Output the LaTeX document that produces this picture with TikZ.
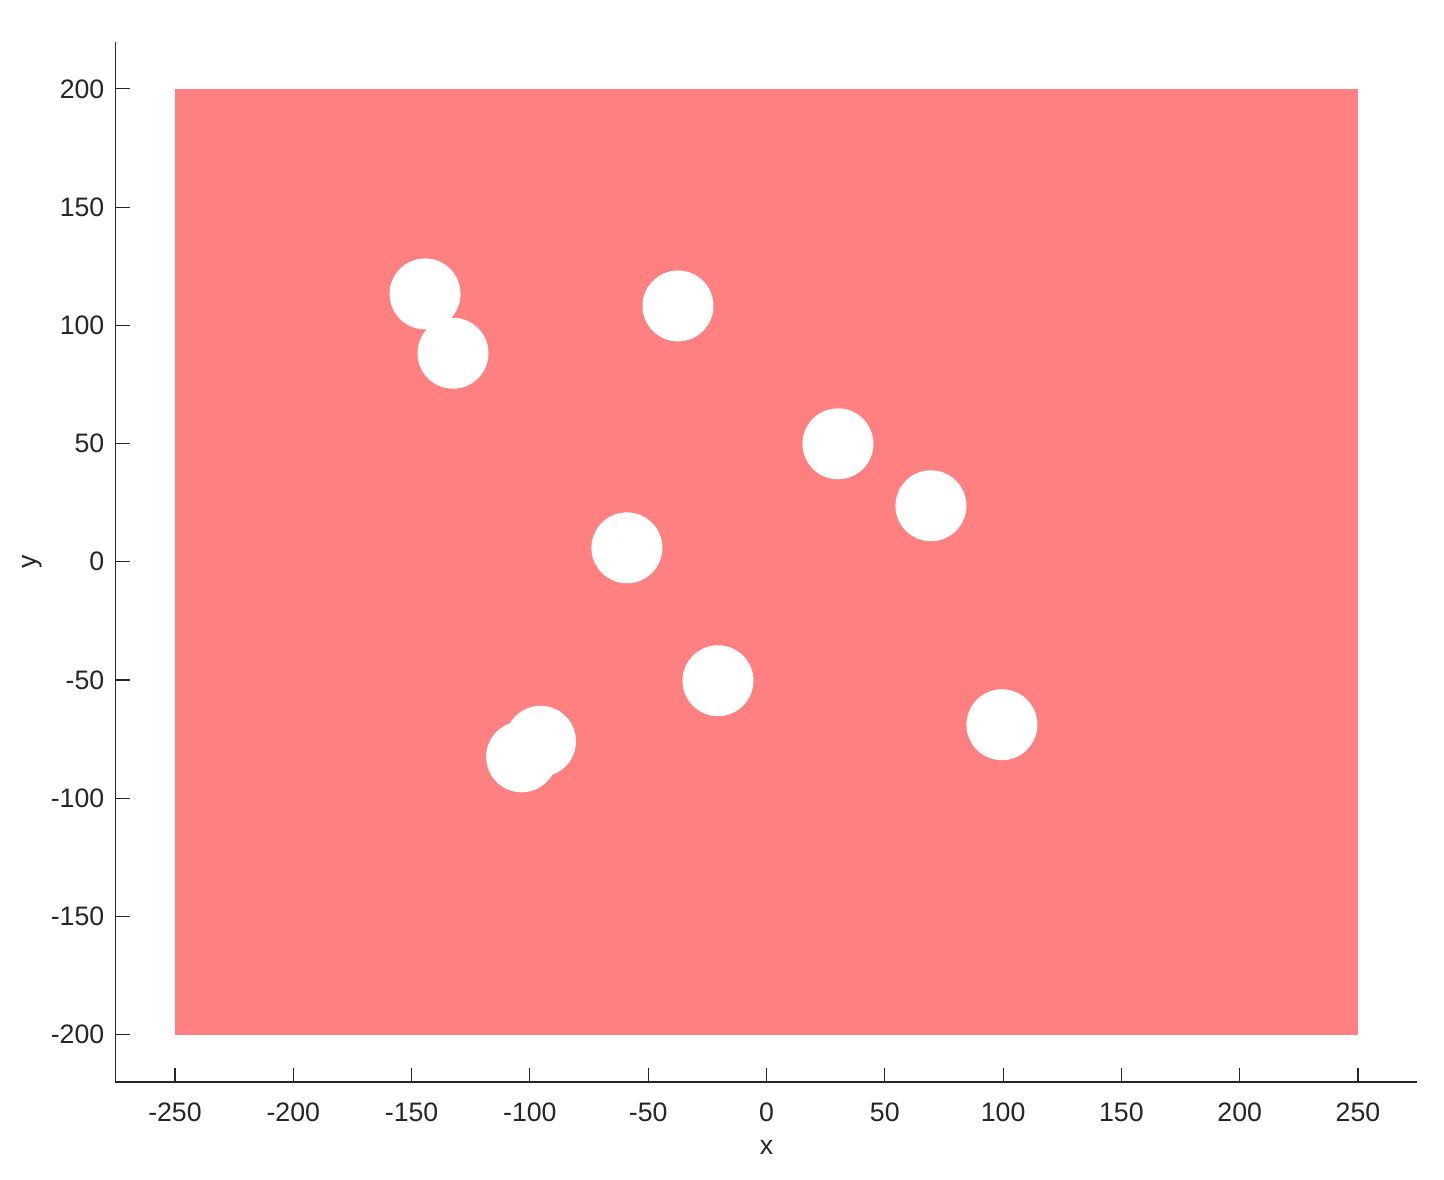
\documentclass[tikz,border=0pt]{standalone}
\usepackage{fontspec}
\setmainfont{Liberation Sans}
\definecolor{axisgray}{RGB}{38,38,38}
\definecolor{regionred}{RGB}{255,128,128}
\tikzset{
  axisline/.style={draw=axisgray, line width=0.3pt},
  ticklabel/.style={text=axisgray, inner sep=0pt, font=\fontsize{7.6}{9}\selectfont},
  hole/.style={fill=white, draw=none}
}
\begin{document}
\begin{tikzpicture}[x=0.02366cm, y=0.02365cm]
  \useasboundingbox (-323.96,-261.3) rectangle (286.35,237.6);
  % region with holes
  \fill[regionred] (-250,-200) rectangle (250,200);
  \foreach \cx/\cy in {-144.3/113.3, -132.5/88.2, -37.4/108.2, 30.2/49.9, 69.5/23.7,
                       -59/5.9, -20.5/-50.3, -95.5/-75.9, -103.5/-82.5, 99.5/-68.9}
    \fill[hole] (\cx,\cy) circle (15);
  % axes
  \coordinate (O) at (-275,-220);
  \coordinate (T) at (-275,220);
  \coordinate (R) at (275,-220);
  \draw[axisline] (T) -- (O) -- (R);
  \foreach \t in {-250,-200,...,250}
    \draw[axisline] (\t,-220) -- ++(0,0.14cm)
      node[ticklabel, pos=0, below=0.2cm] (xt\t) {\t};
  \foreach \t in {-200,-150,...,200}
    \draw[axisline] (-275,\t) -- ++(0.14cm,0)
      node[ticklabel, pos=0, left=0.11cm] (yt\t) {\t};
  \node[ticklabel] (xlabel) at (0,-247.8) {x};
  \node[ticklabel, rotate=90] (ylabel) at (-310.4,0) {y};
\end{tikzpicture}
\end{document}
